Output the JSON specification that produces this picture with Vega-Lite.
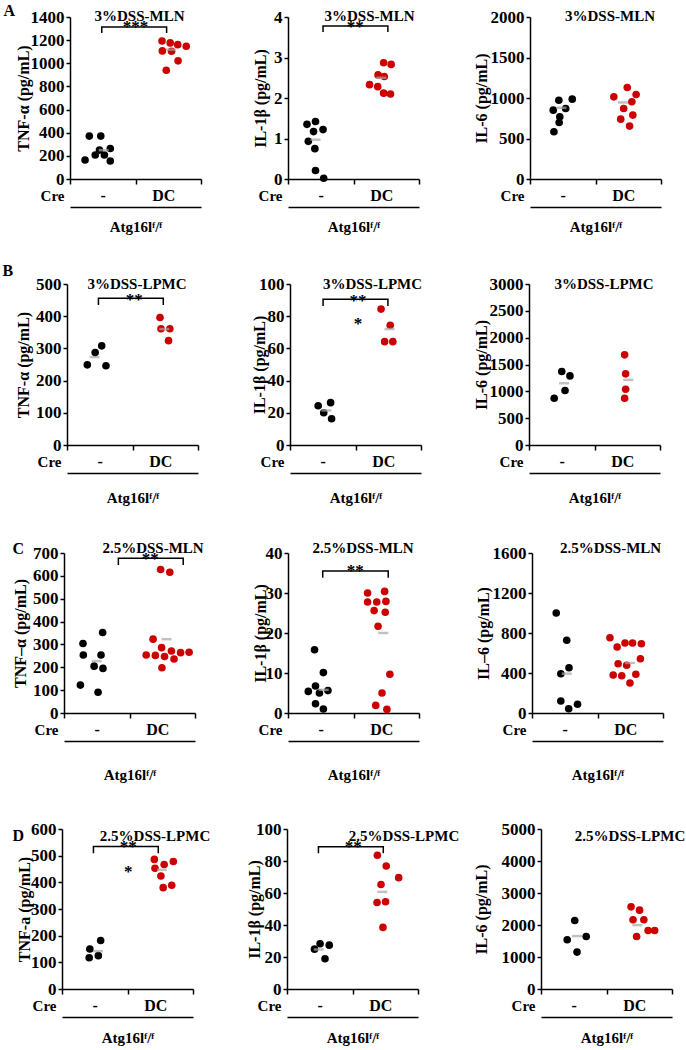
{
"$schema":"https://vega.github.io/schema/vega-lite/v6.json",
"autosize":{"type":"none"},
"padding":{"left":66,"top":17,"right":620,"bottom":1033},
"background":"white",
"config":{"font":"Liberation Serif","numberFormat":"d","view":{"stroke":null},
 "axis":{"labelFont":"Liberation Serif","titleFont":"Liberation Serif","labelFontWeight":"bold","titleFontWeight":"bold","labelColor":"black","titleColor":"black","domainColor":"black","tickColor":"black","domainWidth":1.5,"tickWidth":1.5,"grid":false,"labelFontSize":15,"titleFontSize":15},
 "axisY":{"labelFontSize":17,"titleFontSize":16},
 "axisX":{"titleFontSize":15}},
"datasets":{
"pts":[
{"p":"A1","g":"-","x":0.59,"v":371},{"p":"A1","g":"-","x":0.94,"v":371},{"p":"A1","g":"-","x":0.90,"v":250},{"p":"A1","g":"-","x":0.77,"v":207},{"p":"A1","g":"-","x":1.05,"v":207},{"p":"A1","g":"-","x":1.23,"v":264},{"p":"A1","g":"-","x":0.46,"v":164},{"p":"A1","g":"-","x":1.23,"v":155},
{"p":"A1","g":"DC","x":2.81,"v":1193},{"p":"A1","g":"DC","x":3.06,"v":1176},{"p":"A1","g":"DC","x":3.29,"v":1161},{"p":"A1","g":"DC","x":3.55,"v":1147},{"p":"A1","g":"DC","x":2.82,"v":1107},{"p":"A1","g":"DC","x":3.10,"v":1104},{"p":"A1","g":"DC","x":3.30,"v":1021},{"p":"A1","g":"DC","x":2.94,"v":940},
{"p":"A2","g":"-","x":0.58,"v":1.35},{"p":"A2","g":"-","x":0.84,"v":1.42},{"p":"A2","g":"-","x":0.78,"v":1.17},{"p":"A2","g":"-","x":1.07,"v":1.22},{"p":"A2","g":"-","x":0.62,"v":0.93},{"p":"A2","g":"-","x":0.82,"v":0.75},{"p":"A2","g":"-","x":0.84,"v":0.21},{"p":"A2","g":"-","x":1.09,"v":0.02},
{"p":"A2","g":"DC","x":2.92,"v":2.87},{"p":"A2","g":"DC","x":3.15,"v":2.83},{"p":"A2","g":"DC","x":2.75,"v":2.57},{"p":"A2","g":"DC","x":2.94,"v":2.53},{"p":"A2","g":"DC","x":2.49,"v":2.33},{"p":"A2","g":"DC","x":2.74,"v":2.28},{"p":"A2","g":"DC","x":2.92,"v":2.12},{"p":"A2","g":"DC","x":3.13,"v":2.10},
{"p":"A3","g":"-","x":0.88,"v":973},{"p":"A3","g":"-","x":1.29,"v":986},{"p":"A3","g":"-","x":0.71,"v":850},{"p":"A3","g":"-","x":1.09,"v":871},{"p":"A3","g":"-","x":0.91,"v":768},{"p":"A3","g":"-","x":0.89,"v":698},{"p":"A3","g":"-","x":0.73,"v":583},
{"p":"A3","g":"DC","x":2.97,"v":1129},{"p":"A3","g":"DC","x":3.24,"v":1043},{"p":"A3","g":"DC","x":2.56,"v":1014},{"p":"A3","g":"DC","x":3.11,"v":953},{"p":"A3","g":"DC","x":2.86,"v":871},{"p":"A3","g":"DC","x":3.14,"v":789},{"p":"A3","g":"DC","x":2.77,"v":739},{"p":"A3","g":"DC","x":3.04,"v":653},
{"p":"B1","g":"-","x":1.06,"v":308},{"p":"B1","g":"-","x":0.86,"v":287},{"p":"B1","g":"-","x":0.62,"v":249},{"p":"B1","g":"-","x":1.19,"v":246},
{"p":"B1","g":"DC","x":2.84,"v":396},{"p":"B1","g":"DC","x":2.87,"v":361},{"p":"B1","g":"DC","x":3.14,"v":361},{"p":"B1","g":"DC","x":3.10,"v":324},
{"p":"B2","g":"-","x":0.86,"v":24.4},{"p":"B2","g":"-","x":1.24,"v":26.3},{"p":"B2","g":"-","x":1.03,"v":20.0},{"p":"B2","g":"-","x":1.27,"v":16.3},
{"p":"B2","g":"DC","x":2.78,"v":84.4},{"p":"B2","g":"DC","x":3.06,"v":74.4},{"p":"B2","g":"DC","x":2.89,"v":64.2},{"p":"B2","g":"DC","x":3.14,"v":64.2},
{"p":"B3","g":"-","x":1.00,"v":1369},{"p":"B3","g":"-","x":1.25,"v":1288},{"p":"B3","g":"-","x":1.10,"v":1015},{"p":"B3","g":"-","x":0.77,"v":871},
{"p":"B3","g":"DC","x":2.92,"v":1680},{"p":"B3","g":"DC","x":2.95,"v":1326},{"p":"B3","g":"DC","x":2.95,"v":1039},{"p":"B3","g":"DC","x":2.92,"v":871},
{"p":"C1","g":"-","x":1.18,"v":352},{"p":"C1","g":"-","x":0.58,"v":304},{"p":"C1","g":"-","x":1.13,"v":254},{"p":"C1","g":"-","x":0.59,"v":254},{"p":"C1","g":"-","x":0.92,"v":205},{"p":"C1","g":"-","x":1.19,"v":195},{"p":"C1","g":"-","x":0.50,"v":122},{"p":"C1","g":"-","x":1.04,"v":91},
{"p":"C1","g":"DC","x":2.95,"v":628},{"p":"C1","g":"DC","x":3.23,"v":616},{"p":"C1","g":"DC","x":2.72,"v":323},{"p":"C1","g":"DC","x":2.98,"v":286},{"p":"C1","g":"DC","x":3.28,"v":271},{"p":"C1","g":"DC","x":3.56,"v":264},{"p":"C1","g":"DC","x":3.82,"v":266},{"p":"C1","g":"DC","x":2.51,"v":254},{"p":"C1","g":"DC","x":2.79,"v":252},{"p":"C1","g":"DC","x":3.07,"v":247},{"p":"C1","g":"DC","x":3.36,"v":236},{"p":"C1","g":"DC","x":2.99,"v":198},
{"p":"C2","g":"-","x":0.81,"v":15.8},{"p":"C2","g":"-","x":1.08,"v":10.1},{"p":"C2","g":"-","x":0.84,"v":6.75},{"p":"C2","g":"-","x":0.62,"v":5.4},{"p":"C2","g":"-","x":0.96,"v":5.0},{"p":"C2","g":"-","x":1.22,"v":5.6},{"p":"C2","g":"-","x":0.84,"v":2.3},{"p":"C2","g":"-","x":1.08,"v":1.0},
{"p":"C2","g":"DC","x":2.43,"v":30.0},{"p":"C2","g":"DC","x":2.95,"v":30.4},{"p":"C2","g":"DC","x":2.43,"v":27.75},{"p":"C2","g":"DC","x":2.71,"v":27.75},{"p":"C2","g":"DC","x":2.99,"v":27.9},{"p":"C2","g":"DC","x":2.63,"v":25.6},{"p":"C2","g":"DC","x":2.97,"v":25.2},{"p":"C2","g":"DC","x":2.75,"v":21.7},{"p":"C2","g":"DC","x":3.11,"v":9.7},{"p":"C2","g":"DC","x":2.87,"v":5.0},{"p":"C2","g":"DC","x":2.68,"v":1.9},{"p":"C2","g":"DC","x":3.02,"v":0.9},
{"p":"C3","g":"-","x":0.74,"v":1000},{"p":"C3","g":"-","x":1.06,"v":727},{"p":"C3","g":"-","x":1.13,"v":453},{"p":"C3","g":"-","x":0.88,"v":393},{"p":"C3","g":"-","x":0.88,"v":120},{"p":"C3","g":"-","x":1.39,"v":87},{"p":"C3","g":"-","x":1.12,"v":43},
{"p":"C3","g":"DC","x":2.38,"v":753},{"p":"C3","g":"DC","x":2.60,"v":660},{"p":"C3","g":"DC","x":2.84,"v":700},{"p":"C3","g":"DC","x":3.07,"v":700},{"p":"C3","g":"DC","x":3.34,"v":693},{"p":"C3","g":"DC","x":3.31,"v":543},{"p":"C3","g":"DC","x":2.63,"v":493},{"p":"C3","g":"DC","x":2.89,"v":477},{"p":"C3","g":"DC","x":2.48,"v":380},{"p":"C3","g":"DC","x":3.17,"v":387},{"p":"C3","g":"DC","x":2.74,"v":373},{"p":"C3","g":"DC","x":2.99,"v":300},
{"p":"D1","g":"-","x":1.18,"v":182},{"p":"D1","g":"-","x":0.85,"v":150},{"p":"D1","g":"-","x":1.11,"v":125},{"p":"D1","g":"-","x":0.83,"v":117},
{"p":"D1","g":"DC","x":2.82,"v":486},{"p":"D1","g":"DC","x":3.12,"v":467},{"p":"D1","g":"DC","x":3.40,"v":478},{"p":"D1","g":"DC","x":2.84,"v":453},{"p":"D1","g":"DC","x":3.02,"v":424},{"p":"D1","g":"DC","x":3.35,"v":389},{"p":"D1","g":"DC","x":3.09,"v":380},
{"p":"D2","g":"-","x":0.84,"v":24.9},{"p":"D2","g":"-","x":1.01,"v":28.3},{"p":"D2","g":"-","x":1.29,"v":27.4},{"p":"D2","g":"-","x":1.16,"v":18.9},
{"p":"D2","g":"DC","x":2.76,"v":83.6},{"p":"D2","g":"DC","x":3.03,"v":76.9},{"p":"D2","g":"DC","x":3.41,"v":69.6},{"p":"D2","g":"DC","x":2.87,"v":65.3},{"p":"D2","g":"DC","x":2.75,"v":54.1},{"p":"D2","g":"DC","x":3.01,"v":54.5},{"p":"D2","g":"DC","x":2.93,"v":38.5},
{"p":"D3","g":"-","x":1.03,"v":2141},{"p":"D3","g":"-","x":0.80,"v":1538},{"p":"D3","g":"-","x":1.38,"v":1642},{"p":"D3","g":"-","x":1.10,"v":1154},
{"p":"D3","g":"DC","x":2.75,"v":2568},{"p":"D3","g":"DC","x":3.01,"v":2464},{"p":"D3","g":"DC","x":2.81,"v":2162},{"p":"D3","g":"DC","x":3.14,"v":2162},{"p":"D3","g":"DC","x":2.92,"v":1642},{"p":"D3","g":"DC","x":3.27,"v":1830},{"p":"D3","g":"DC","x":3.47,"v":1830}
],
"means":[
{"p":"A1","x":1.03,"v":249},{"p":"A1","x":3.08,"v":1118},
{"p":"A2","x":0.84,"v":0.97},{"p":"A2","x":2.85,"v":2.5},
{"p":"A3","x":0.96,"v":879},{"p":"A3","x":2.84,"v":945},
{"p":"B1","x":0.84,"v":273},{"p":"B1","x":2.97,"v":360},
{"p":"B2","x":1.11,"v":21.5},{"p":"B2","x":3.04,"v":72},
{"p":"B3","x":1.07,"v":1151},{"p":"B3","x":3.03,"v":1214},
{"p":"C1","x":1.0,"v":227},{"p":"C1","x":3.13,"v":323},
{"p":"C2","x":1.09,"v":5.8},{"p":"C2","x":2.91,"v":20},
{"p":"C3","x":1.06,"v":393},{"p":"C3","x":2.99,"v":500},
{"p":"D1","x":1.1,"v":142},{"p":"D1","x":3.05,"v":447},
{"p":"D2","x":0.97,"v":24.7},{"p":"D2","x":2.91,"v":60.7},
{"p":"D3","x":1.1,"v":1653},{"p":"D3","x":2.94,"v":1996}
],
"brk":[
{"p":"A1","o":1,"x":0.97,"v":1262},{"p":"A1","o":2,"x":0.97,"v":1313},{"p":"A1","o":3,"x":2.95,"v":1313},{"p":"A1","o":4,"x":2.95,"v":1262},
{"p":"A2","o":1,"x":1.07,"v":3.63},{"p":"A2","o":2,"x":1.07,"v":3.78},{"p":"A2","o":3,"x":3.05,"v":3.78},{"p":"A2","o":4,"x":3.05,"v":3.63},
{"p":"B1","o":1,"x":0.96,"v":435},{"p":"B1","o":2,"x":0.96,"v":456},{"p":"B1","o":3,"x":2.94,"v":456},{"p":"B1","o":4,"x":2.94,"v":435},
{"p":"B2","o":1,"x":1.01,"v":86.3},{"p":"B2","o":2,"x":1.01,"v":90.6},{"p":"B2","o":3,"x":2.99,"v":90.6},{"p":"B2","o":4,"x":2.99,"v":86.3},
{"p":"C1","o":1,"x":1.66,"v":647},{"p":"C1","o":2,"x":1.66,"v":677},{"p":"C1","o":3,"x":3.64,"v":677},{"p":"C1","o":4,"x":3.64,"v":647},
{"p":"C2","o":1,"x":1.06,"v":33.8},{"p":"C2","o":2,"x":1.06,"v":35.5},{"p":"C2","o":3,"x":3.06,"v":35.5},{"p":"C2","o":4,"x":3.06,"v":33.8},
{"p":"D1","o":1,"x":0.96,"v":509},{"p":"D1","o":2,"x":0.96,"v":534},{"p":"D1","o":3,"x":2.94,"v":534},{"p":"D1","o":4,"x":2.94,"v":509},
{"p":"D2","o":1,"x":0.96,"v":84.8},{"p":"D2","o":2,"x":0.96,"v":88.9},{"p":"D2","o":3,"x":2.94,"v":88.9},{"p":"D2","o":4,"x":2.94,"v":84.8}
],
"stars":[
{"p":"A1","x":2.0,"v":1270,"s":"***"},
{"p":"A2","x":2.05,"v":3.63,"s":"**"},
{"p":"B1","x":2.05,"v":435,"s":"**"},
{"p":"B2","x":2.08,"v":86.6,"s":"**"},{"p":"B2","x":2.08,"v":71.9,"s":"*"},
{"p":"C1","x":2.63,"v":652,"s":"**"},
{"p":"C2","x":2.05,"v":34.25,"s":"**"},
{"p":"D1","x":2.02,"v":514,"s":"**"},{"p":"D1","x":2.02,"v":420,"s":"*"},
{"p":"D2","x":2.02,"v":85.6,"s":"**"}
]
},
"concat":[
{"width":131,"height":162,"resolve":{"axis":{"x":"independent","y":"independent"}},"layer":[
 {"data":{"name":"pts"},"transform":[{"filter":"datum.p==='A1'"}],"mark":{"type":"circle","size":58,"opacity":1},
  "encoding":{"x":{"field":"x","type":"quantitative","scale":{"domain":[0,4],"range":[4,135],"nice":false,"zero":false},"axis":{"orient":"bottom","offset":0,"values":[0,2,4],"labels":false,"tickSize":5,"title":null}},
   "y":{"field":"v","type":"quantitative","scale":{"domain":[0,1400],"range":[162,0],"nice":false,"zero":false},"axis":{"orient":"left","offset":-4,"values":[0,200,400,600,800,1000,1200,1400],"tickSize":4,"labelPadding":2,"title":"TNF-α (pg/mL)","titleX":-55,"titleY":81,"titleAngle":270,"titleBaseline":"top","titleAlign":"center"}},
   "color":{"field":"g","type":"nominal","scale":{"domain":["-","DC"],"range":["#000000","#cc0000"]},"legend":null}}},
 {"data":{"name":"means"},"transform":[{"filter":"datum.p==='A1'"}],"mark":{"type":"tick","orient":"horizontal","size":10,"thickness":2.5,"color":"#a6a6a6"},
  "encoding":{"x":{"field":"x","type":"quantitative","scale":{"domain":[0,4],"range":[4,135],"nice":false,"zero":false},"axis":{"orient":"bottom","offset":0,"values":[1,2.85],"labelExpr":"datum.value < 2 ? '-' : 'DC'","domain":false,"ticks":false,"tickSize":0,"labelPadding":16,"labelBaseline":"middle","labelFontSize":16,"title":"Cre","titleX":-2,"titleY":16,"titleAlign":"right","titleBaseline":"middle","titleAngle":0}},
   "y":{"field":"v","type":"quantitative","scale":{"domain":[0,1400],"range":[162,0],"nice":false,"zero":false},"axis":{"orient":"left","offset":0,"domain":false,"ticks":false,"labels":false,"title":"A","titleX":-63,"titleY":-2,"titleAngle":0,"titleAlign":"left","titleBaseline":"alphabetic","titleFontSize":16}}}},
 {"data":{"name":"stars"},"transform":[{"filter":"datum.p==='A1'"}],"mark":{"type":"text","fontSize":17,"fontWeight":"bold","font":"Liberation Serif","baseline":"alphabetic","color":"black"},
  "encoding":{"x":{"field":"x","type":"quantitative","scale":{"domain":[0,4],"range":[4,135],"nice":false,"zero":false},"axis":{"orient":"top","offset":0,"domain":false,"ticks":false,"labels":false,"title":"3%DSS-MLN","titleX":73,"titleY":3,"titleAlign":"center","titleBaseline":"alphabetic","titleAngle":0}},
   "y":{"field":"v","type":"quantitative","scale":{"domain":[0,1400],"range":[162,0],"nice":false,"zero":false},"axis":null},"text":{"field":"s"}}},
 {"data":{"name":"brk"},"transform":[{"filter":"datum.p==='A1'"}],"mark":{"type":"line","color":"black","strokeWidth":1.5},
  "encoding":{"x":{"field":"x","type":"quantitative","scale":{"domain":[0,4],"range":[4,135],"nice":false,"zero":false},"axis":{"orient":"bottom","offset":28,"domain":true,"ticks":false,"labels":false,"title":"Atg16lᶠ/ᶠ","titleX":69.5,"titleY":19,"titleAlign":"center","titleBaseline":"middle","titleAngle":0}},
   "y":{"field":"v","type":"quantitative","scale":{"domain":[0,1400],"range":[162,0],"nice":false,"zero":false},"axis":null},"order":{"field":"o","type":"quantitative"}}}
]},
{"width":131,"height":162,"resolve":{"axis":{"x":"independent","y":"independent"}},"layer":[
 {"data":{"name":"pts"},"transform":[{"filter":"datum.p==='A2'"}],"mark":{"type":"circle","size":58,"opacity":1},
  "encoding":{"x":{"field":"x","type":"quantitative","scale":{"domain":[0,4],"range":[0,131],"nice":false,"zero":false},"axis":{"orient":"bottom","offset":0,"values":[0,2,4],"labels":false,"tickSize":5,"title":null}},
   "y":{"field":"v","type":"quantitative","scale":{"domain":[0,4],"range":[162,0],"nice":false,"zero":false},"axis":{"orient":"left","offset":0,"values":[0,1,2,3,4],"tickSize":4,"labelPadding":2,"title":"IL-1β (pg/mL)","titleX":-36,"titleY":81,"titleAngle":270,"titleBaseline":"top","titleAlign":"center"}},
   "color":{"field":"g","type":"nominal","scale":{"domain":["-","DC"],"range":["#000000","#cc0000"]},"legend":null}}},
 {"data":{"name":"means"},"transform":[{"filter":"datum.p==='A2'"}],"mark":{"type":"tick","orient":"horizontal","size":10,"thickness":2.5,"color":"#a6a6a6"},
  "encoding":{"x":{"field":"x","type":"quantitative","scale":{"domain":[0,4],"range":[0,131],"nice":false,"zero":false},"axis":{"orient":"bottom","offset":0,"values":[1,2.85],"labelExpr":"datum.value < 2 ? '-' : 'DC'","domain":false,"ticks":false,"tickSize":0,"labelPadding":16,"labelBaseline":"middle","labelFontSize":16,"title":"Cre","titleX":-6,"titleY":16,"titleAlign":"right","titleBaseline":"middle","titleAngle":0}},
   "y":{"field":"v","type":"quantitative","scale":{"domain":[0,4],"range":[162,0],"nice":false,"zero":false},"axis":null}}},
 {"data":{"name":"stars"},"transform":[{"filter":"datum.p==='A2'"}],"mark":{"type":"text","fontSize":17,"fontWeight":"bold","font":"Liberation Serif","baseline":"alphabetic","color":"black"},
  "encoding":{"x":{"field":"x","type":"quantitative","scale":{"domain":[0,4],"range":[0,131],"nice":false,"zero":false},"axis":{"orient":"top","offset":0,"domain":false,"ticks":false,"labels":false,"title":"3%DSS-MLN","titleX":81,"titleY":3,"titleAlign":"center","titleBaseline":"alphabetic","titleAngle":0}},
   "y":{"field":"v","type":"quantitative","scale":{"domain":[0,4],"range":[162,0],"nice":false,"zero":false},"axis":null},"text":{"field":"s"}}},
 {"data":{"name":"brk"},"transform":[{"filter":"datum.p==='A2'"}],"mark":{"type":"line","color":"black","strokeWidth":1.5},
  "encoding":{"x":{"field":"x","type":"quantitative","scale":{"domain":[0,4],"range":[0,131],"nice":false,"zero":false},"axis":{"orient":"bottom","offset":28,"domain":true,"ticks":false,"labels":false,"title":"Atg16lᶠ/ᶠ","titleX":65.5,"titleY":19,"titleAlign":"center","titleBaseline":"middle","titleAngle":0}},
   "y":{"field":"v","type":"quantitative","scale":{"domain":[0,4],"range":[162,0],"nice":false,"zero":false},"axis":null},"order":{"field":"o","type":"quantitative"}}}
]},
{"width":131,"height":162,"resolve":{"axis":{"x":"independent","y":"independent"}},"layer":[
 {"data":{"name":"pts"},"transform":[{"filter":"datum.p==='A3'"}],"mark":{"type":"circle","size":58,"opacity":1},
  "encoding":{"x":{"field":"x","type":"quantitative","scale":{"domain":[0,4],"range":[20,151],"nice":false,"zero":false},"axis":{"orient":"bottom","offset":0,"values":[0,2,4],"labels":false,"tickSize":5,"title":null}},
   "y":{"field":"v","type":"quantitative","scale":{"domain":[0,2000],"range":[162,0],"nice":false,"zero":false},"axis":{"orient":"left","offset":-20,"values":[0,500,1000,1500,2000],"tickSize":4,"labelPadding":2,"title":"IL-6 (pg/mL)","titleX":-57,"titleY":81,"titleAngle":270,"titleBaseline":"top","titleAlign":"center"}},
   "color":{"field":"g","type":"nominal","scale":{"domain":["-","DC"],"range":["#000000","#cc0000"]},"legend":null}}},
 {"data":{"name":"means"},"transform":[{"filter":"datum.p==='A3'"}],"mark":{"type":"tick","orient":"horizontal","size":10,"thickness":2.5,"color":"#a6a6a6"},
  "encoding":{"x":{"field":"x","type":"quantitative","scale":{"domain":[0,4],"range":[20,151],"nice":false,"zero":false},"axis":{"orient":"bottom","offset":0,"values":[1,2.85],"labelExpr":"datum.value < 2 ? '-' : 'DC'","domain":false,"ticks":false,"tickSize":0,"labelPadding":16,"labelBaseline":"middle","labelFontSize":16,"title":"Cre","titleX":14,"titleY":16,"titleAlign":"right","titleBaseline":"middle","titleAngle":0}},
   "y":{"field":"v","type":"quantitative","scale":{"domain":[0,2000],"range":[162,0],"nice":false,"zero":false},"axis":null}}},
 {"data":{"name":"stars"},"transform":[{"filter":"datum.p==='A3'"}],"mark":{"type":"text","fontSize":17,"fontWeight":"bold","font":"Liberation Serif","baseline":"alphabetic","color":"black"},
  "encoding":{"x":{"field":"x","type":"quantitative","scale":{"domain":[0,4],"range":[20,151],"nice":false,"zero":false},"axis":{"orient":"top","offset":0,"domain":false,"ticks":false,"labels":false,"title":"3%DSS-MLN","titleX":99.5,"titleY":3,"titleAlign":"center","titleBaseline":"alphabetic","titleAngle":0}},
   "y":{"field":"v","type":"quantitative","scale":{"domain":[0,2000],"range":[162,0],"nice":false,"zero":false},"axis":null},"text":{"field":"s"}}},
 {"data":{"name":"brk"},"transform":[{"filter":"datum.p==='A3'"}],"mark":{"type":"line","color":"black","strokeWidth":1.5},
  "encoding":{"x":{"field":"x","type":"quantitative","scale":{"domain":[0,4],"range":[20,151],"nice":false,"zero":false},"axis":{"orient":"bottom","offset":28,"domain":true,"ticks":false,"labels":false,"title":"Atg16lᶠ/ᶠ","titleX":85.5,"titleY":19,"titleAlign":"center","titleBaseline":"middle","titleAngle":0}},
   "y":{"field":"v","type":"quantitative","scale":{"domain":[0,2000],"range":[162,0],"nice":false,"zero":false},"axis":null},"order":{"field":"o","type":"quantitative"}}}
]},
{"width":131,"height":161,"resolve":{"axis":{"x":"independent","y":"independent"}},"layer":[
 {"data":{"name":"pts"},"transform":[{"filter":"datum.p==='B1'"}],"mark":{"type":"circle","size":58,"opacity":1},
  "encoding":{"x":{"field":"x","type":"quantitative","scale":{"domain":[0,4],"range":[1,132],"nice":false,"zero":false},"axis":{"orient":"bottom","offset":0,"values":[0,2,4],"labels":false,"tickSize":5,"title":null}},
   "y":{"field":"v","type":"quantitative","scale":{"domain":[0,500],"range":[161,0],"nice":false,"zero":false},"axis":{"orient":"left","offset":-1,"values":[0,100,200,300,400,500],"tickSize":4,"labelPadding":2,"title":"TNF-α (pg/mL)","titleX":-52,"titleY":80.5,"titleAngle":270,"titleBaseline":"top","titleAlign":"center"}},
   "color":{"field":"g","type":"nominal","scale":{"domain":["-","DC"],"range":["#000000","#cc0000"]},"legend":null}}},
 {"data":{"name":"means"},"transform":[{"filter":"datum.p==='B1'"}],"mark":{"type":"tick","orient":"horizontal","size":10,"thickness":2.5,"color":"#a6a6a6"},
  "encoding":{"x":{"field":"x","type":"quantitative","scale":{"domain":[0,4],"range":[1,132],"nice":false,"zero":false},"axis":{"orient":"bottom","offset":0,"values":[1,2.85],"labelExpr":"datum.value < 2 ? '-' : 'DC'","domain":false,"ticks":false,"tickSize":0,"labelPadding":16,"labelBaseline":"middle","labelFontSize":16,"title":"Cre","titleX":-5,"titleY":16,"titleAlign":"right","titleBaseline":"middle","titleAngle":0}},
   "y":{"field":"v","type":"quantitative","scale":{"domain":[0,500],"range":[161,0],"nice":false,"zero":false},"axis":{"orient":"left","offset":0,"domain":false,"ticks":false,"labels":false,"title":"B","titleX":-64,"titleY":-9,"titleAngle":0,"titleAlign":"left","titleBaseline":"alphabetic","titleFontSize":16}}}},
 {"data":{"name":"stars"},"transform":[{"filter":"datum.p==='B1'"}],"mark":{"type":"text","fontSize":17,"fontWeight":"bold","font":"Liberation Serif","baseline":"alphabetic","color":"black"},
  "encoding":{"x":{"field":"x","type":"quantitative","scale":{"domain":[0,4],"range":[1,132],"nice":false,"zero":false},"axis":{"orient":"top","offset":0,"domain":false,"ticks":false,"labels":false,"title":"3%DSS-LPMC","titleX":70.5,"titleY":4,"titleAlign":"center","titleBaseline":"alphabetic","titleAngle":0}},
   "y":{"field":"v","type":"quantitative","scale":{"domain":[0,500],"range":[161,0],"nice":false,"zero":false},"axis":null},"text":{"field":"s"}}},
 {"data":{"name":"brk"},"transform":[{"filter":"datum.p==='B1'"}],"mark":{"type":"line","color":"black","strokeWidth":1.5},
  "encoding":{"x":{"field":"x","type":"quantitative","scale":{"domain":[0,4],"range":[1,132],"nice":false,"zero":false},"axis":{"orient":"bottom","offset":28,"domain":true,"ticks":false,"labels":false,"title":"Atg16lᶠ/ᶠ","titleX":66.5,"titleY":24,"titleAlign":"center","titleBaseline":"middle","titleAngle":0}},
   "y":{"field":"v","type":"quantitative","scale":{"domain":[0,500],"range":[161,0],"nice":false,"zero":false},"axis":null},"order":{"field":"o","type":"quantitative"}}}
]},
{"width":131,"height":161,"resolve":{"axis":{"x":"independent","y":"independent"}},"layer":[
 {"data":{"name":"pts"},"transform":[{"filter":"datum.p==='B2'"}],"mark":{"type":"circle","size":58,"opacity":1},
  "encoding":{"x":{"field":"x","type":"quantitative","scale":{"domain":[0,4],"range":[2,133],"nice":false,"zero":false},"axis":{"orient":"bottom","offset":0,"values":[0,2,4],"labels":false,"tickSize":5,"title":null}},
   "y":{"field":"v","type":"quantitative","scale":{"domain":[0,100],"range":[161,0],"nice":false,"zero":false},"axis":{"orient":"left","offset":-2,"values":[0,20,40,60,80,100],"tickSize":4,"labelPadding":2,"title":"IL-1β (pg/mL)","titleX":-39,"titleY":80.5,"titleAngle":270,"titleBaseline":"top","titleAlign":"center"}},
   "color":{"field":"g","type":"nominal","scale":{"domain":["-","DC"],"range":["#000000","#cc0000"]},"legend":null}}},
 {"data":{"name":"means"},"transform":[{"filter":"datum.p==='B2'"}],"mark":{"type":"tick","orient":"horizontal","size":10,"thickness":2.5,"color":"#a6a6a6"},
  "encoding":{"x":{"field":"x","type":"quantitative","scale":{"domain":[0,4],"range":[2,133],"nice":false,"zero":false},"axis":{"orient":"bottom","offset":0,"values":[1,2.85],"labelExpr":"datum.value < 2 ? '-' : 'DC'","domain":false,"ticks":false,"tickSize":0,"labelPadding":16,"labelBaseline":"middle","labelFontSize":16,"title":"Cre","titleX":-4,"titleY":16,"titleAlign":"right","titleBaseline":"middle","titleAngle":0}},
   "y":{"field":"v","type":"quantitative","scale":{"domain":[0,100],"range":[161,0],"nice":false,"zero":false},"axis":null}}},
 {"data":{"name":"stars"},"transform":[{"filter":"datum.p==='B2'"}],"mark":{"type":"text","fontSize":17,"fontWeight":"bold","font":"Liberation Serif","baseline":"alphabetic","color":"black"},
  "encoding":{"x":{"field":"x","type":"quantitative","scale":{"domain":[0,4],"range":[2,133],"nice":false,"zero":false},"axis":{"orient":"top","offset":0,"domain":false,"ticks":false,"labels":false,"title":"3%DSS-LPMC","titleX":84,"titleY":4,"titleAlign":"center","titleBaseline":"alphabetic","titleAngle":0}},
   "y":{"field":"v","type":"quantitative","scale":{"domain":[0,100],"range":[161,0],"nice":false,"zero":false},"axis":null},"text":{"field":"s"}}},
 {"data":{"name":"brk"},"transform":[{"filter":"datum.p==='B2'"}],"mark":{"type":"line","color":"black","strokeWidth":1.5},
  "encoding":{"x":{"field":"x","type":"quantitative","scale":{"domain":[0,4],"range":[2,133],"nice":false,"zero":false},"axis":{"orient":"bottom","offset":28,"domain":true,"ticks":false,"labels":false,"title":"Atg16lᶠ/ᶠ","titleX":67.5,"titleY":24,"titleAlign":"center","titleBaseline":"middle","titleAngle":0}},
   "y":{"field":"v","type":"quantitative","scale":{"domain":[0,100],"range":[161,0],"nice":false,"zero":false},"axis":null},"order":{"field":"o","type":"quantitative"}}}
]},
{"width":131,"height":161,"resolve":{"axis":{"x":"independent","y":"independent"}},"layer":[
 {"data":{"name":"pts"},"transform":[{"filter":"datum.p==='B3'"}],"mark":{"type":"circle","size":58,"opacity":1},
  "encoding":{"x":{"field":"x","type":"quantitative","scale":{"domain":[0,4],"range":[19,150],"nice":false,"zero":false},"axis":{"orient":"bottom","offset":0,"values":[0,2,4],"labels":false,"tickSize":5,"title":null}},
   "y":{"field":"v","type":"quantitative","scale":{"domain":[0,3000],"range":[161,0],"nice":false,"zero":false},"axis":{"orient":"left","offset":-19,"values":[0,500,1000,1500,2000,2500,3000],"tickSize":4,"labelPadding":2,"title":"IL-6 (pg/mL)","titleX":-56,"titleY":80.5,"titleAngle":270,"titleBaseline":"top","titleAlign":"center"}},
   "color":{"field":"g","type":"nominal","scale":{"domain":["-","DC"],"range":["#000000","#cc0000"]},"legend":null}}},
 {"data":{"name":"means"},"transform":[{"filter":"datum.p==='B3'"}],"mark":{"type":"tick","orient":"horizontal","size":10,"thickness":2.5,"color":"#a6a6a6"},
  "encoding":{"x":{"field":"x","type":"quantitative","scale":{"domain":[0,4],"range":[19,150],"nice":false,"zero":false},"axis":{"orient":"bottom","offset":0,"values":[1,2.85],"labelExpr":"datum.value < 2 ? '-' : 'DC'","domain":false,"ticks":false,"tickSize":0,"labelPadding":16,"labelBaseline":"middle","labelFontSize":16,"title":"Cre","titleX":13,"titleY":16,"titleAlign":"right","titleBaseline":"middle","titleAngle":0}},
   "y":{"field":"v","type":"quantitative","scale":{"domain":[0,3000],"range":[161,0],"nice":false,"zero":false},"axis":null}}},
 {"data":{"name":"stars"},"transform":[{"filter":"datum.p==='B3'"}],"mark":{"type":"text","fontSize":17,"fontWeight":"bold","font":"Liberation Serif","baseline":"alphabetic","color":"black"},
  "encoding":{"x":{"field":"x","type":"quantitative","scale":{"domain":[0,4],"range":[19,150],"nice":false,"zero":false},"axis":{"orient":"top","offset":0,"domain":false,"ticks":false,"labels":false,"title":"3%DSS-LPMC","titleX":93.5,"titleY":4,"titleAlign":"center","titleBaseline":"alphabetic","titleAngle":0}},
   "y":{"field":"v","type":"quantitative","scale":{"domain":[0,3000],"range":[161,0],"nice":false,"zero":false},"axis":null},"text":{"field":"s"}}},
 {"data":{"name":"brk"},"transform":[{"filter":"datum.p==='B3'"}],"mark":{"type":"line","color":"black","strokeWidth":1.5},
  "encoding":{"x":{"field":"x","type":"quantitative","scale":{"domain":[0,4],"range":[19,150],"nice":false,"zero":false},"axis":{"orient":"bottom","offset":28,"domain":true,"ticks":false,"labels":false,"title":"Atg16lᶠ/ᶠ","titleX":84.5,"titleY":24,"titleAlign":"center","titleBaseline":"middle","titleAngle":0}},
   "y":{"field":"v","type":"quantitative","scale":{"domain":[0,3000],"range":[161,0],"nice":false,"zero":false},"axis":null},"order":{"field":"o","type":"quantitative"}}}
]},
{"width":131,"height":163,"resolve":{"axis":{"x":"independent","y":"independent"}},"layer":[
 {"data":{"name":"pts"},"transform":[{"filter":"datum.p==='C1'"}],"mark":{"type":"circle","size":58,"opacity":1},
  "encoding":{"x":{"field":"x","type":"quantitative","scale":{"domain":[0,4],"range":[-2,129],"nice":false,"zero":false},"axis":{"orient":"bottom","offset":0,"values":[0,2,4],"labels":false,"tickSize":5,"title":null}},
   "y":{"field":"v","type":"quantitative","scale":{"domain":[0,700],"range":[163,3],"nice":false,"zero":false},"axis":{"orient":"left","offset":2,"values":[0,100,200,300,400,500,600,700],"tickSize":4,"labelPadding":2,"title":"TNF–α (pg/mL)","titleX":-52,"titleY":83,"titleAngle":270,"titleBaseline":"top","titleAlign":"center"}},
   "color":{"field":"g","type":"nominal","scale":{"domain":["-","DC"],"range":["#000000","#cc0000"]},"legend":null}}},
 {"data":{"name":"means"},"transform":[{"filter":"datum.p==='C1'"}],"mark":{"type":"tick","orient":"horizontal","size":10,"thickness":2.5,"color":"#a6a6a6"},
  "encoding":{"x":{"field":"x","type":"quantitative","scale":{"domain":[0,4],"range":[-2,129],"nice":false,"zero":false},"axis":{"orient":"bottom","offset":0,"values":[1,2.85],"labelExpr":"datum.value < 2 ? '-' : 'DC'","domain":false,"ticks":false,"tickSize":0,"labelPadding":16,"labelBaseline":"middle","labelFontSize":16,"title":"Cre","titleX":-8,"titleY":16,"titleAlign":"right","titleBaseline":"middle","titleAngle":0}},
   "y":{"field":"v","type":"quantitative","scale":{"domain":[0,700],"range":[163,3],"nice":false,"zero":false},"axis":{"orient":"left","offset":0,"domain":false,"ticks":false,"labels":false,"title":"C","titleX":-54,"titleY":3,"titleAngle":0,"titleAlign":"left","titleBaseline":"alphabetic","titleFontSize":16}}}},
 {"data":{"name":"stars"},"transform":[{"filter":"datum.p==='C1'"}],"mark":{"type":"text","fontSize":17,"fontWeight":"bold","font":"Liberation Serif","baseline":"alphabetic","color":"black"},
  "encoding":{"x":{"field":"x","type":"quantitative","scale":{"domain":[0,4],"range":[-2,129],"nice":false,"zero":false},"axis":{"orient":"top","offset":0,"domain":false,"ticks":false,"labels":false,"title":"2.5%DSS-MLN","titleX":86.5,"titleY":2,"titleAlign":"center","titleBaseline":"alphabetic","titleAngle":0}},
   "y":{"field":"v","type":"quantitative","scale":{"domain":[0,700],"range":[163,3],"nice":false,"zero":false},"axis":null},"text":{"field":"s"}}},
 {"data":{"name":"brk"},"transform":[{"filter":"datum.p==='C1'"}],"mark":{"type":"line","color":"black","strokeWidth":1.5},
  "encoding":{"x":{"field":"x","type":"quantitative","scale":{"domain":[0,4],"range":[-2,129],"nice":false,"zero":false},"axis":{"orient":"bottom","offset":28,"domain":true,"ticks":false,"labels":false,"title":"Atg16lᶠ/ᶠ","titleX":63.5,"titleY":33,"titleAlign":"center","titleBaseline":"middle","titleAngle":0}},
   "y":{"field":"v","type":"quantitative","scale":{"domain":[0,700],"range":[163,3],"nice":false,"zero":false},"axis":null},"order":{"field":"o","type":"quantitative"}}}
]},
{"width":131,"height":163,"resolve":{"axis":{"x":"independent","y":"independent"}},"layer":[
 {"data":{"name":"pts"},"transform":[{"filter":"datum.p==='C2'"}],"mark":{"type":"circle","size":58,"opacity":1},
  "encoding":{"x":{"field":"x","type":"quantitative","scale":{"domain":[0,4],"range":[0,131],"nice":false,"zero":false},"axis":{"orient":"bottom","offset":0,"values":[0,2,4],"labels":false,"tickSize":5,"title":null}},
   "y":{"field":"v","type":"quantitative","scale":{"domain":[0,40],"range":[163,3],"nice":false,"zero":false},"axis":{"orient":"left","offset":0,"values":[0,10,20,30,40],"tickSize":4,"labelPadding":2,"title":"IL-1β (pg/mL)","titleX":-36,"titleY":83,"titleAngle":270,"titleBaseline":"top","titleAlign":"center"}},
   "color":{"field":"g","type":"nominal","scale":{"domain":["-","DC"],"range":["#000000","#cc0000"]},"legend":null}}},
 {"data":{"name":"means"},"transform":[{"filter":"datum.p==='C2'"}],"mark":{"type":"tick","orient":"horizontal","size":10,"thickness":2.5,"color":"#a6a6a6"},
  "encoding":{"x":{"field":"x","type":"quantitative","scale":{"domain":[0,4],"range":[0,131],"nice":false,"zero":false},"axis":{"orient":"bottom","offset":0,"values":[1,2.85],"labelExpr":"datum.value < 2 ? '-' : 'DC'","domain":false,"ticks":false,"tickSize":0,"labelPadding":16,"labelBaseline":"middle","labelFontSize":16,"title":"Cre","titleX":-6,"titleY":16,"titleAlign":"right","titleBaseline":"middle","titleAngle":0}},
   "y":{"field":"v","type":"quantitative","scale":{"domain":[0,40],"range":[163,3],"nice":false,"zero":false},"axis":null}}},
 {"data":{"name":"stars"},"transform":[{"filter":"datum.p==='C2'"}],"mark":{"type":"text","fontSize":17,"fontWeight":"bold","font":"Liberation Serif","baseline":"alphabetic","color":"black"},
  "encoding":{"x":{"field":"x","type":"quantitative","scale":{"domain":[0,4],"range":[0,131],"nice":false,"zero":false},"axis":{"orient":"top","offset":0,"domain":false,"ticks":false,"labels":false,"title":"2.5%DSS-MLN","titleX":74.5,"titleY":2,"titleAlign":"center","titleBaseline":"alphabetic","titleAngle":0}},
   "y":{"field":"v","type":"quantitative","scale":{"domain":[0,40],"range":[163,3],"nice":false,"zero":false},"axis":null},"text":{"field":"s"}}},
 {"data":{"name":"brk"},"transform":[{"filter":"datum.p==='C2'"}],"mark":{"type":"line","color":"black","strokeWidth":1.5},
  "encoding":{"x":{"field":"x","type":"quantitative","scale":{"domain":[0,4],"range":[0,131],"nice":false,"zero":false},"axis":{"orient":"bottom","offset":28,"domain":true,"ticks":false,"labels":false,"title":"Atg16lᶠ/ᶠ","titleX":65.5,"titleY":33,"titleAlign":"center","titleBaseline":"middle","titleAngle":0}},
   "y":{"field":"v","type":"quantitative","scale":{"domain":[0,40],"range":[163,3],"nice":false,"zero":false},"axis":null},"order":{"field":"o","type":"quantitative"}}}
]},
{"width":131,"height":163,"resolve":{"axis":{"x":"independent","y":"independent"}},"layer":[
 {"data":{"name":"pts"},"transform":[{"filter":"datum.p==='C3'"}],"mark":{"type":"circle","size":58,"opacity":1},
  "encoding":{"x":{"field":"x","type":"quantitative","scale":{"domain":[0,4],"range":[22,153],"nice":false,"zero":false},"axis":{"orient":"bottom","offset":0,"values":[0,2,4],"labels":false,"tickSize":5,"title":null}},
   "y":{"field":"v","type":"quantitative","scale":{"domain":[0,1600],"range":[163,3],"nice":false,"zero":false},"axis":{"orient":"left","offset":-22,"values":[0,400,800,1200,1600],"tickSize":4,"labelPadding":2,"title":"IL–6 (pg/mL)","titleX":-57,"titleY":83,"titleAngle":270,"titleBaseline":"top","titleAlign":"center"}},
   "color":{"field":"g","type":"nominal","scale":{"domain":["-","DC"],"range":["#000000","#cc0000"]},"legend":null}}},
 {"data":{"name":"means"},"transform":[{"filter":"datum.p==='C3'"}],"mark":{"type":"tick","orient":"horizontal","size":10,"thickness":2.5,"color":"#a6a6a6"},
  "encoding":{"x":{"field":"x","type":"quantitative","scale":{"domain":[0,4],"range":[22,153],"nice":false,"zero":false},"axis":{"orient":"bottom","offset":0,"values":[1,2.85],"labelExpr":"datum.value < 2 ? '-' : 'DC'","domain":false,"ticks":false,"tickSize":0,"labelPadding":16,"labelBaseline":"middle","labelFontSize":16,"title":"Cre","titleX":16,"titleY":16,"titleAlign":"right","titleBaseline":"middle","titleAngle":0}},
   "y":{"field":"v","type":"quantitative","scale":{"domain":[0,1600],"range":[163,3],"nice":false,"zero":false},"axis":null}}},
 {"data":{"name":"stars"},"transform":[{"filter":"datum.p==='C3'"}],"mark":{"type":"text","fontSize":17,"fontWeight":"bold","font":"Liberation Serif","baseline":"alphabetic","color":"black"},
  "encoding":{"x":{"field":"x","type":"quantitative","scale":{"domain":[0,4],"range":[22,153],"nice":false,"zero":false},"axis":{"orient":"top","offset":0,"domain":false,"ticks":false,"labels":false,"title":"2.5%DSS-MLN","titleX":100,"titleY":2,"titleAlign":"center","titleBaseline":"alphabetic","titleAngle":0}},
   "y":{"field":"v","type":"quantitative","scale":{"domain":[0,1600],"range":[163,3],"nice":false,"zero":false},"axis":null},"text":{"field":"s"}}},
 {"data":{"name":"brk"},"transform":[{"filter":"datum.p==='C3'"}],"mark":{"type":"line","color":"black","strokeWidth":1.5},
  "encoding":{"x":{"field":"x","type":"quantitative","scale":{"domain":[0,4],"range":[22,153],"nice":false,"zero":false},"axis":{"orient":"bottom","offset":28,"domain":true,"ticks":false,"labels":false,"title":"Atg16lᶠ/ᶠ","titleX":87.5,"titleY":33,"titleAlign":"center","titleBaseline":"middle","titleAngle":0}},
   "y":{"field":"v","type":"quantitative","scale":{"domain":[0,1600],"range":[163,3],"nice":false,"zero":false},"axis":null},"order":{"field":"o","type":"quantitative"}}}
]},
{"width":131,"height":171,"resolve":{"axis":{"x":"independent","y":"independent"}},"layer":[
 {"data":{"name":"pts"},"transform":[{"filter":"datum.p==='D1'"}],"mark":{"type":"circle","size":58,"opacity":1},
  "encoding":{"x":{"field":"x","type":"quantitative","scale":{"domain":[0,4],"range":[-4,127],"nice":false,"zero":false},"axis":{"orient":"bottom","offset":0,"values":[0,2,4],"labels":false,"tickSize":5,"title":null}},
   "y":{"field":"v","type":"quantitative","scale":{"domain":[0,600],"range":[171,11],"nice":false,"zero":false},"axis":{"orient":"left","offset":4,"values":[0,100,200,300,400,500,600],"tickSize":4,"labelPadding":2,"title":"TNF-a (pg/mL)","titleX":-46,"titleY":91,"titleAngle":270,"titleBaseline":"top","titleAlign":"center"}},
   "color":{"field":"g","type":"nominal","scale":{"domain":["-","DC"],"range":["#000000","#cc0000"]},"legend":null}}},
 {"data":{"name":"means"},"transform":[{"filter":"datum.p==='D1'"}],"mark":{"type":"tick","orient":"horizontal","size":10,"thickness":2.5,"color":"#a6a6a6"},
  "encoding":{"x":{"field":"x","type":"quantitative","scale":{"domain":[0,4],"range":[-4,127],"nice":false,"zero":false},"axis":{"orient":"bottom","offset":0,"values":[1,2.85],"labelExpr":"datum.value < 2 ? '-' : 'DC'","domain":false,"ticks":false,"tickSize":0,"labelPadding":16,"labelBaseline":"middle","labelFontSize":16,"title":"Cre","titleX":-10,"titleY":16,"titleAlign":"right","titleBaseline":"middle","titleAngle":0}},
   "y":{"field":"v","type":"quantitative","scale":{"domain":[0,600],"range":[171,11],"nice":false,"zero":false},"axis":{"orient":"left","offset":0,"domain":false,"ticks":false,"labels":false,"title":"D","titleX":-54,"titleY":22,"titleAngle":0,"titleAlign":"left","titleBaseline":"alphabetic","titleFontSize":16}}}},
 {"data":{"name":"stars"},"transform":[{"filter":"datum.p==='D1'"}],"mark":{"type":"text","fontSize":17,"fontWeight":"bold","font":"Liberation Serif","baseline":"alphabetic","color":"black"},
  "encoding":{"x":{"field":"x","type":"quantitative","scale":{"domain":[0,4],"range":[-4,127],"nice":false,"zero":false},"axis":{"orient":"top","offset":0,"domain":false,"ticks":false,"labels":false,"title":"2.5%DSS-LPMC","titleX":88.5,"titleY":22,"titleAlign":"center","titleBaseline":"alphabetic","titleAngle":0}},
   "y":{"field":"v","type":"quantitative","scale":{"domain":[0,600],"range":[171,11],"nice":false,"zero":false},"axis":null},"text":{"field":"s"}}},
 {"data":{"name":"brk"},"transform":[{"filter":"datum.p==='D1'"}],"mark":{"type":"line","color":"black","strokeWidth":1.5},
  "encoding":{"x":{"field":"x","type":"quantitative","scale":{"domain":[0,4],"range":[-4,127],"nice":false,"zero":false},"axis":{"orient":"bottom","offset":28,"domain":true,"ticks":false,"labels":false,"title":"Atg16lᶠ/ᶠ","titleX":61.5,"titleY":20,"titleAlign":"center","titleBaseline":"middle","titleAngle":0}},
   "y":{"field":"v","type":"quantitative","scale":{"domain":[0,600],"range":[171,11],"nice":false,"zero":false},"axis":null},"order":{"field":"o","type":"quantitative"}}}
]},
{"width":131,"height":171,"resolve":{"axis":{"x":"independent","y":"independent"}},"layer":[
 {"data":{"name":"pts"},"transform":[{"filter":"datum.p==='D2'"}],"mark":{"type":"circle","size":58,"opacity":1},
  "encoding":{"x":{"field":"x","type":"quantitative","scale":{"domain":[0,4],"range":[-1,130],"nice":false,"zero":false},"axis":{"orient":"bottom","offset":0,"values":[0,2,4],"labels":false,"tickSize":5,"title":null}},
   "y":{"field":"v","type":"quantitative","scale":{"domain":[0,100],"range":[171,11],"nice":false,"zero":false},"axis":{"orient":"left","offset":1,"values":[0,20,40,60,80,100],"tickSize":4,"labelPadding":2,"title":"IL-1β (pg/mL)","titleX":-41,"titleY":91,"titleAngle":270,"titleBaseline":"top","titleAlign":"center"}},
   "color":{"field":"g","type":"nominal","scale":{"domain":["-","DC"],"range":["#000000","#cc0000"]},"legend":null}}},
 {"data":{"name":"means"},"transform":[{"filter":"datum.p==='D2'"}],"mark":{"type":"tick","orient":"horizontal","size":10,"thickness":2.5,"color":"#a6a6a6"},
  "encoding":{"x":{"field":"x","type":"quantitative","scale":{"domain":[0,4],"range":[-1,130],"nice":false,"zero":false},"axis":{"orient":"bottom","offset":0,"values":[1,2.85],"labelExpr":"datum.value < 2 ? '-' : 'DC'","domain":false,"ticks":false,"tickSize":0,"labelPadding":16,"labelBaseline":"middle","labelFontSize":16,"title":"Cre","titleX":-7,"titleY":16,"titleAlign":"right","titleBaseline":"middle","titleAngle":0}},
   "y":{"field":"v","type":"quantitative","scale":{"domain":[0,100],"range":[171,11],"nice":false,"zero":false},"axis":null}}},
 {"data":{"name":"stars"},"transform":[{"filter":"datum.p==='D2'"}],"mark":{"type":"text","fontSize":17,"fontWeight":"bold","font":"Liberation Serif","baseline":"alphabetic","color":"black"},
  "encoding":{"x":{"field":"x","type":"quantitative","scale":{"domain":[0,4],"range":[-1,130],"nice":false,"zero":false},"axis":{"orient":"top","offset":0,"domain":false,"ticks":false,"labels":false,"title":"2.5%DSS-LPMC","titleX":115.5,"titleY":22,"titleAlign":"center","titleBaseline":"alphabetic","titleAngle":0}},
   "y":{"field":"v","type":"quantitative","scale":{"domain":[0,100],"range":[171,11],"nice":false,"zero":false},"axis":null},"text":{"field":"s"}}},
 {"data":{"name":"brk"},"transform":[{"filter":"datum.p==='D2'"}],"mark":{"type":"line","color":"black","strokeWidth":1.5},
  "encoding":{"x":{"field":"x","type":"quantitative","scale":{"domain":[0,4],"range":[-1,130],"nice":false,"zero":false},"axis":{"orient":"bottom","offset":28,"domain":true,"ticks":false,"labels":false,"title":"Atg16lᶠ/ᶠ","titleX":64.5,"titleY":20,"titleAlign":"center","titleBaseline":"middle","titleAngle":0}},
   "y":{"field":"v","type":"quantitative","scale":{"domain":[0,100],"range":[171,11],"nice":false,"zero":false},"axis":null},"order":{"field":"o","type":"quantitative"}}}
]},
{"width":131,"height":171,"resolve":{"axis":{"x":"independent","y":"independent"}},"layer":[
 {"data":{"name":"pts"},"transform":[{"filter":"datum.p==='D3'"}],"mark":{"type":"circle","size":58,"opacity":1},
  "encoding":{"x":{"field":"x","type":"quantitative","scale":{"domain":[0,4],"range":[31,162],"nice":false,"zero":false},"axis":{"orient":"bottom","offset":0,"values":[0,2,4],"labels":false,"tickSize":5,"title":null}},
   "y":{"field":"v","type":"quantitative","scale":{"domain":[0,5000],"range":[171,11],"nice":false,"zero":false},"axis":{"orient":"left","offset":-31,"values":[0,1000,2000,3000,4000,5000],"tickSize":4,"labelPadding":2,"title":"IL-6 (pg/mL)","titleX":-68,"titleY":91,"titleAngle":270,"titleBaseline":"top","titleAlign":"center"}},
   "color":{"field":"g","type":"nominal","scale":{"domain":["-","DC"],"range":["#000000","#cc0000"]},"legend":null}}},
 {"data":{"name":"means"},"transform":[{"filter":"datum.p==='D3'"}],"mark":{"type":"tick","orient":"horizontal","size":10,"thickness":2.5,"color":"#a6a6a6"},
  "encoding":{"x":{"field":"x","type":"quantitative","scale":{"domain":[0,4],"range":[31,162],"nice":false,"zero":false},"axis":{"orient":"bottom","offset":0,"values":[1,2.85],"labelExpr":"datum.value < 2 ? '-' : 'DC'","domain":false,"ticks":false,"tickSize":0,"labelPadding":16,"labelBaseline":"middle","labelFontSize":16,"title":"Cre","titleX":25,"titleY":16,"titleAlign":"right","titleBaseline":"middle","titleAngle":0}},
   "y":{"field":"v","type":"quantitative","scale":{"domain":[0,5000],"range":[171,11],"nice":false,"zero":false},"axis":null}}},
 {"data":{"name":"stars"},"transform":[{"filter":"datum.p==='D3'"}],"mark":{"type":"text","fontSize":17,"fontWeight":"bold","font":"Liberation Serif","baseline":"alphabetic","color":"black"},
  "encoding":{"x":{"field":"x","type":"quantitative","scale":{"domain":[0,4],"range":[31,162],"nice":false,"zero":false},"axis":{"orient":"top","offset":0,"domain":false,"ticks":false,"labels":false,"title":"2.5%DSS-LPMC","titleX":119.5,"titleY":22,"titleAlign":"center","titleBaseline":"alphabetic","titleAngle":0}},
   "y":{"field":"v","type":"quantitative","scale":{"domain":[0,5000],"range":[171,11],"nice":false,"zero":false},"axis":null},"text":{"field":"s"}}},
 {"data":{"name":"brk"},"transform":[{"filter":"datum.p==='D3'"}],"mark":{"type":"line","color":"black","strokeWidth":1.5},
  "encoding":{"x":{"field":"x","type":"quantitative","scale":{"domain":[0,4],"range":[31,162],"nice":false,"zero":false},"axis":{"orient":"bottom","offset":28,"domain":true,"ticks":false,"labels":false,"title":"Atg16lᶠ/ᶠ","titleX":96.5,"titleY":20,"titleAlign":"center","titleBaseline":"middle","titleAngle":0}},
   "y":{"field":"v","type":"quantitative","scale":{"domain":[0,5000],"range":[171,11],"nice":false,"zero":false},"axis":null},"order":{"field":"o","type":"quantitative"}}}
]}
],
"columns":3,
"spacing":{"row":105,"column":91},
"bounds":"flush",
"align":"each"
}
